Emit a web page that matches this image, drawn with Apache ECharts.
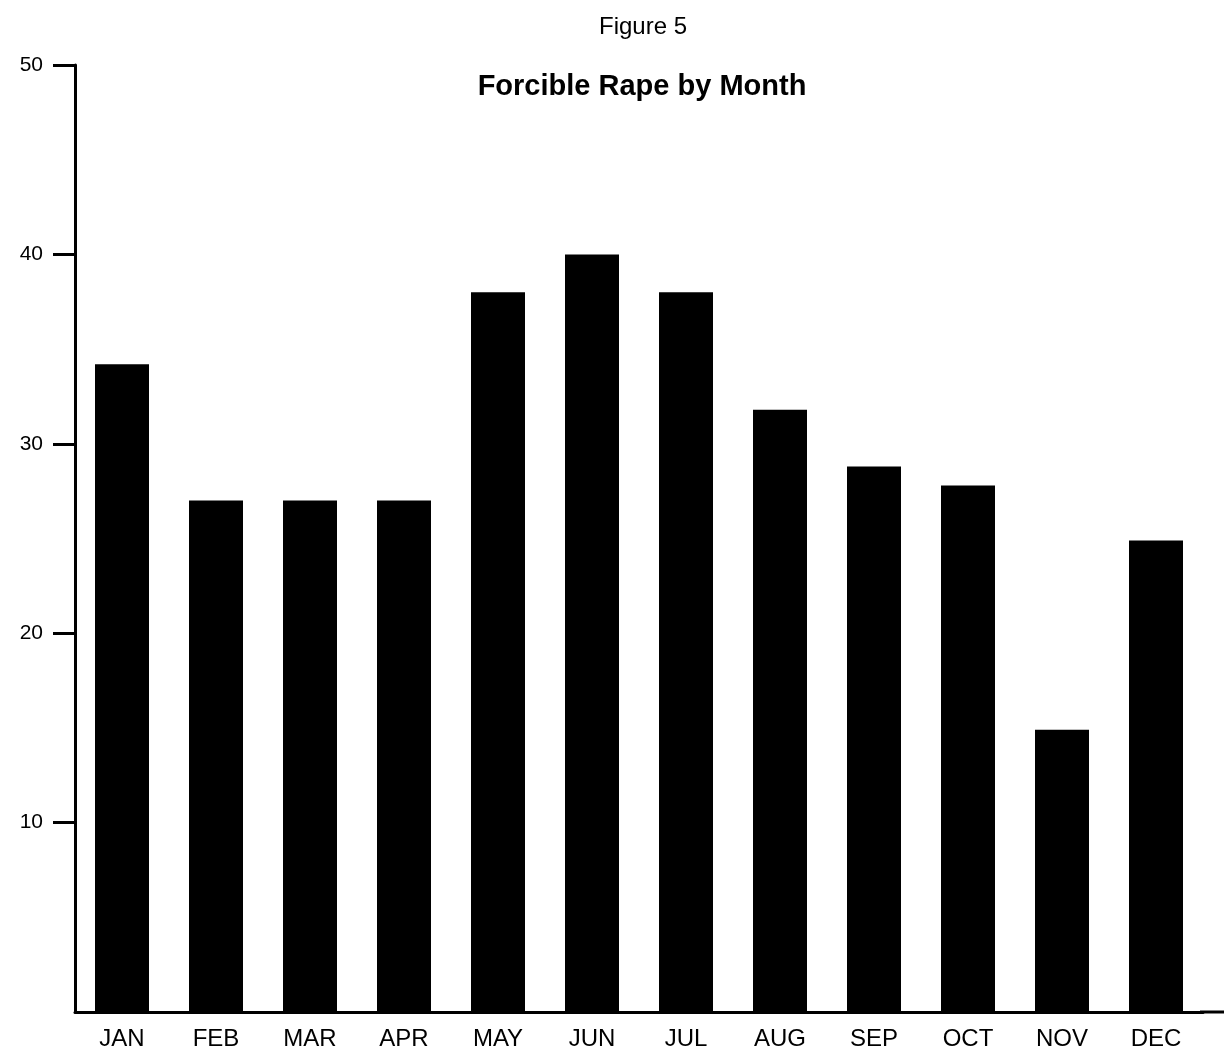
<!DOCTYPE html>
<html>
<head>
<meta charset="utf-8">
<script src="https://cdn.jsdelivr.net/npm/echarts@6/dist/echarts.min.js"></script>
<style>
html,body{margin:0;padding:0;background:#fff;}
#c{width:1226px;height:1052px;}
</style>
</head>
<body>
<div id="c"></div>
<script>
const months = ['JAN','FEB','MAR','APR','MAY','JUN','JUL','AUG','SEP','OCT','NOV','DEC'];
const values = [34.2, 27, 27, 27, 38, 40, 38, 31.8, 28.8, 27.8, 14.9, 24.9];
const yTicks = [10, 20, 30, 40, 50];

const chart = echarts.init(document.getElementById('c'), null, {renderer: 'canvas'});
const font = '"Liberation Sans", Arial, Helvetica, sans-serif';
chart.setOption({
  backgroundColor: '#fff',
  animation: false,
  title: [
    {text: 'Figure 5', left: 638, top: 10, textAlign: 'center',
     textStyle: {fontFamily: font, fontSize: 24, fontWeight: 'normal', color: '#000'}},
    {text: 'Forcible Rape by Month', left: 637, top: 67, textAlign: 'center',
     textStyle: {fontFamily: font, fontSize: 29, fontWeight: 'bold', color: '#000'}}
  ],
  grid: {left: 75, right: 23, top: 65, bottom: 40, containLabel: false},
  xAxis: {
    type: 'category',
    data: months,
    axisLine: {lineStyle: {color: '#000', width: 3}},
    axisTick: {show: false},
    axisLabel: {margin: 15, fontFamily: font, fontSize: 24, color: '#000'}
  },
  yAxis: {
    type: 'value',
    min: 0, max: 50, interval: 10,
    axisLine: {show: true, lineStyle: {color: '#000', width: 3}},
    axisTick: {show: true, length: 22, customValues: yTicks, lineStyle: {color: '#000', width: 3}},
    axisLabel: {margin: 32, fontFamily: font, fontSize: 21, color: '#000', customValues: yTicks},
    splitLine: {show: false}
  },
  series: [{
    type: 'bar',
    data: values,
    barWidth: 54,
    itemStyle: {color: '#000'}
  }]
});
const y0 = chart.convertToPixel({yAxisIndex: 0}, 0);
chart.setOption({
  graphic: [{
    type: 'line',
    shape: {x1: 1200, y1: y0, x2: 1224, y2: y0},
    style: {stroke: '#000', lineWidth: 3}
  }]
});
</script>
</body>
</html>
